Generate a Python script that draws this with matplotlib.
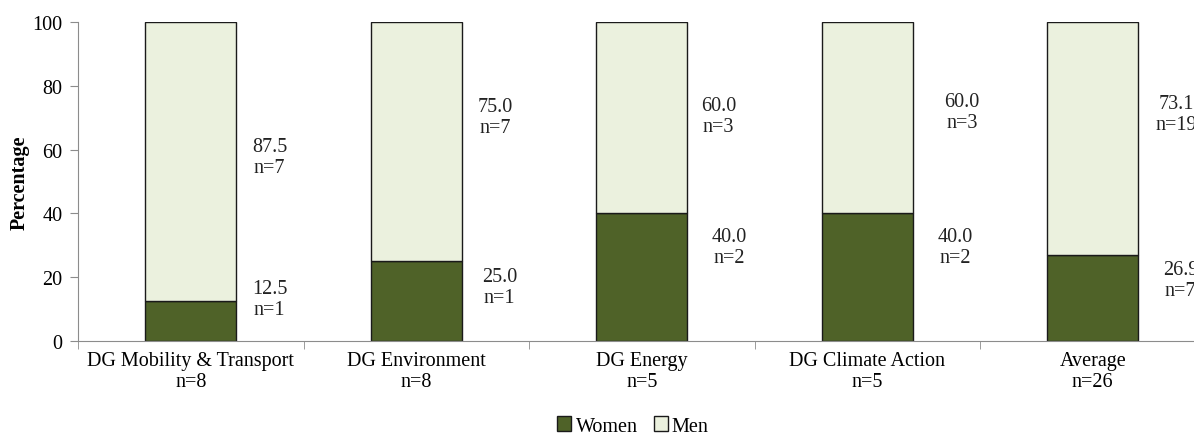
import matplotlib.pyplot as plt
import numpy as np

categories = ['DG Mobility & Transport\nn=8', 'DG Environment\nn=8', 'DG Energy\nn=5',
              'DG Climate Action\nn=5', 'Average\nn=26']
women = [12.5, 25.0, 40.0, 40.0, 26.9]
men = [87.5, 75.0, 60.0, 60.0, 73.1]
women_n = [1, 1, 2, 2, 7]
men_n = [7, 7, 3, 3, 19]

# label placement as in the original (hand-placed next to each bar)
women_lab_dx = [0.35, 0.37, 0.39, 0.39, 0.39]
women_lab_y = [13.2, 16.8, 29.6, 29.5, 19.0]
men_lab_dx = [0.35, 0.35, 0.34, 0.42, 0.37]
men_lab_y = [57.7, 70.1, 70.5, 71.8, 71.3]

plt.rcParams['font.family'] = ['Liberation Serif', 'DejaVu Serif']
fs = 14.5

fig = plt.figure(figsize=(11.94, 4.35), dpi=100)
ax = fig.add_axes([78 / 1194, 93 / 435, 1127.5 / 1194, 319 / 435])

x = np.arange(len(categories))
w = 0.405
ax.bar(x, women, w, color='#4F6228', edgecolor='#1a1a1a', linewidth=1, label='Women')
ax.bar(x, men, w, bottom=women, color='#EBF1DE', edgecolor='#1a1a1a', linewidth=1, label='Men')

for i in range(len(x)):
    ax.text(x[i] + women_lab_dx[i], women_lab_y[i], f'{women[i]:.1f}\nn={women_n[i]}',
            ha='center', va='center', fontsize=fs, color='#222222', linespacing=1.15)
    ax.text(x[i] + men_lab_dx[i], men_lab_y[i], f'{men[i]:.1f}\nn={men_n[i]}',
            ha='center', va='center', fontsize=fs, color='#222222', linespacing=1.15)

ax.set_xlim(-0.5, 4.5)
ax.set_ylim(0, 100)
ax.set_yticks(range(0, 101, 20))
ax.set_xticks(x)
ax.set_xticklabels(categories, fontsize=fs, linespacing=1.15)
ax.set_xticks(np.arange(-0.5, 5, 1), minor=True)
ax.tick_params(axis='x', which='major', length=0, pad=7)
ax.tick_params(axis='x', which='minor', length=6, color='#8c8c8c')
ax.tick_params(axis='y', length=6, color='#8c8c8c', labelsize=fs, pad=5)
for s in ['top', 'right']:
    ax.spines[s].set_visible(False)
for s in ['left', 'bottom']:
    ax.spines[s].set_color('#8c8c8c')
ax.set_ylabel('Percentage', fontsize=14.5, fontweight='bold', labelpad=2)

fig.legend(loc='center', bbox_to_anchor=(633 / 1194, 8 / 435), ncol=2, frameon=False,
           fontsize=fs, handlelength=0.7, handleheight=0.7, handletextpad=0.2, columnspacing=0.8)

fig.savefig('out.png', dpi=100)
